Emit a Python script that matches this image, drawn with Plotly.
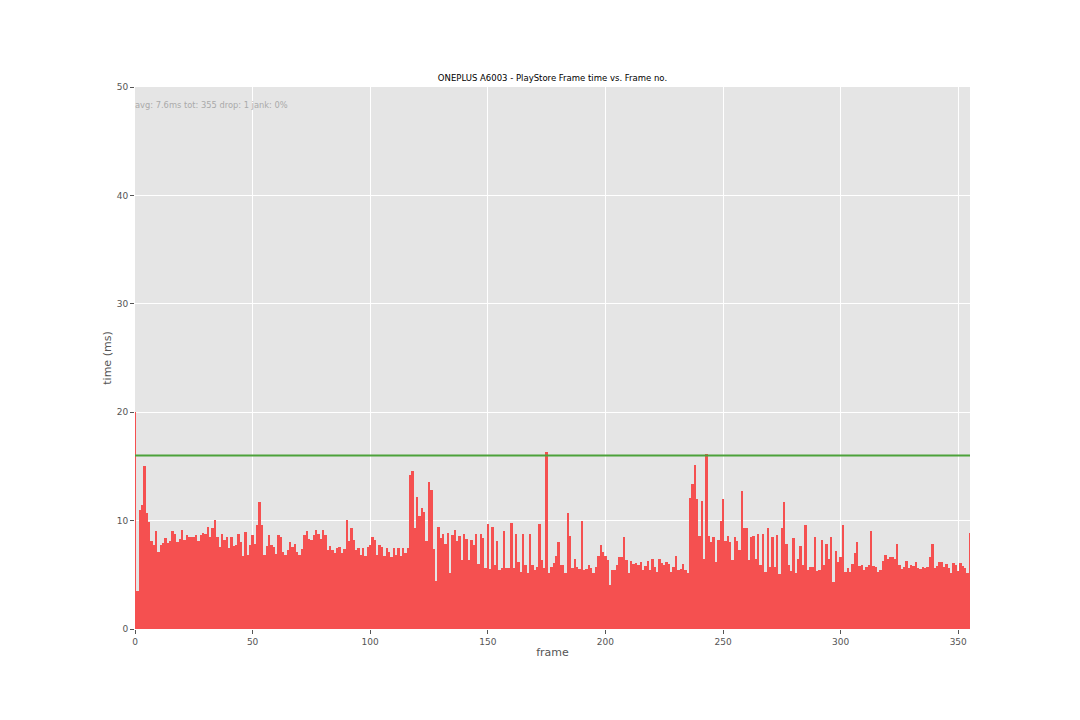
import plotly.graph_objects as go

# Frame times (ms), one per frame
frame_time_ms = [
    20.0, 3.5, 11.0, 11.4, 15.0, 10.7, 9.9, 8.1, 7.75, 9.0,
    7.1, 7.75, 7.9, 8.4, 7.9, 8.1, 9.0, 8.8, 8.0, 8.3,
    9.1, 8.2, 8.7, 8.5, 8.5, 8.5, 8.7, 8.1, 8.7, 8.9,
    8.8, 9.4, 8.5, 9.35, 10.1, 8.5, 7.6, 8.8, 8.2, 8.5,
    7.45, 8.5, 7.65, 7.75, 8.8, 8.0, 6.75, 8.95, 6.8, 7.75,
    8.7, 7.85, 9.6, 11.7, 9.6, 6.8, 7.65, 8.7, 7.75, 7.6,
    6.9, 8.7, 8.5, 7.1, 6.8, 7.3, 8.0, 7.6, 7.85, 7.1,
    6.8, 7.35, 8.7, 9.0, 8.3, 8.2, 8.7, 9.1, 8.8, 8.3,
    9.1, 8.7, 7.3, 7.7, 7.3, 7.0, 7.45, 7.55, 7.0, 7.35,
    10.1, 8.1, 9.3, 8.2, 7.3, 7.45, 6.8, 7.45, 6.7, 7.6,
    7.75, 8.45, 8.2, 6.8, 7.75, 7.6, 6.7, 7.45, 7.1, 6.6,
    7.45, 6.8, 7.5, 6.7, 7.5, 7.0, 7.45, 14.2, 14.6, 9.3,
    12.2, 10.4, 11.2, 10.8, 8.1, 13.6, 12.8, 7.35, 4.4, 9.45,
    8.4, 8.75, 7.85, 8.9, 5.15, 8.7, 9.1, 8.1, 8.6, 6.4,
    8.8, 8.3, 6.4, 8.2, 7.75, 8.8, 6.0, 8.8, 8.4, 5.6,
    9.7, 5.5, 9.4, 5.9, 8.1, 5.45, 5.6, 9.0, 5.6, 5.6,
    9.75, 5.6, 8.75, 6.15, 5.3, 8.75, 5.9, 5.2, 8.8, 5.9,
    5.4, 5.75, 9.7, 6.4, 5.6, 16.3, 5.15, 5.75, 6.05, 6.75,
    8.05, 5.9, 5.9, 5.2, 10.7, 8.6, 5.6, 6.45, 5.75, 5.55,
    10.0, 5.45, 5.5, 5.9, 5.65, 5.2, 5.75, 6.75, 7.75, 7.1,
    6.75, 6.35, 4.1, 5.45, 5.45, 5.9, 6.6, 6.6, 8.5, 6.35,
    5.2, 6.3, 6.0, 6.05, 5.9, 6.2, 5.4, 5.85, 6.3, 5.45,
    6.5, 5.75, 5.3, 6.5, 6.05, 5.95, 6.15, 6.0, 5.3, 5.7,
    6.7, 5.45, 5.5, 6.0, 5.4, 5.2, 12.05, 13.35, 15.1, 12.0,
    8.6, 11.8, 6.45, 16.1, 8.6, 8.0, 8.5, 6.2, 8.2, 10.0,
    12.0, 8.1, 8.6, 8.0, 6.4, 8.5, 8.15, 7.3, 12.7, 9.3,
    9.35, 6.4, 8.5, 8.6, 6.45, 8.8, 5.9, 8.8, 5.3, 9.35,
    5.75, 8.45, 5.75, 8.7, 5.1, 9.35, 11.75, 7.8, 5.9, 5.35,
    8.35, 5.2, 6.45, 7.65, 5.9, 9.55, 5.4, 5.7, 5.7, 8.45,
    5.35, 5.4, 8.2, 5.95, 7.85, 6.45, 8.45, 4.3, 7.15, 6.2,
    6.6, 9.55, 5.25, 5.6, 5.25, 6.0, 7.0, 8.0, 5.8, 5.9,
    5.45, 5.75, 5.9, 9.0, 5.8, 5.75, 5.25, 5.4, 6.3, 6.8,
    6.5, 6.65, 6.6, 6.45, 7.8, 5.9, 5.5, 5.75, 6.3, 5.6,
    5.95, 5.85, 6.2, 5.6, 5.55, 5.75, 5.65, 5.75, 6.6, 7.85,
    5.6, 5.85, 6.15, 6.2, 5.75, 6.0, 5.65, 5.15, 6.05, 5.9,
    5.35, 6.05, 5.85, 5.6, 5.2, 8.9,
]
frame_no = list(range(len(frame_time_ms)))

threshold_ms = [16.0, 16.0]
threshold_x = [0, 355]

x_ticks = [0, 50, 100, 150, 200, 250, 300, 350]
y_ticks = [0, 10, 20, 30, 40, 50]

title_text = "ONEPLUS A6003 - PlayStore Frame time vs. Frame no."
stats_text = "avg: 7.6ms tot: 355 drop: 1 jank: 0%"

fig = go.Figure()
fig.add_trace(go.Bar(
    x=frame_no, y=frame_time_ms, width=1.0,
    marker=dict(color="#F55050", line=dict(width=0)),
    showlegend=False,
))
fig.add_trace(go.Scatter(
    x=threshold_x, y=threshold_ms, mode="lines",
    line=dict(color="#4CA23A", width=2), showlegend=False,
))

axis_common = dict(
    showgrid=True, gridcolor="white", gridwidth=1,
    zeroline=False, showline=False,
    ticks="outside", ticklen=4, tickcolor="#555555",
    tickfont=dict(family="DejaVu Sans", size=9, color="#555555"),
)

fig.update_layout(
    width=1080, height=720,
    paper_bgcolor="white", plot_bgcolor="#E5E5E5",
    margin=dict(l=127, r=118, t=79, b=99),
    bargap=0,
    title=dict(text=title_text, x=(127 + 962) / 2 / 1080, xanchor="center", y=1 - 70 / 720, yanchor="middle",
               font=dict(family="DejaVu Sans", size=8.5, color="black")),
    xaxis=dict(range=[0, 355], tickvals=x_ticks,
               title=dict(text="frame", font=dict(family="DejaVu Sans", size=11, color="#555555"), standoff=2),
               **axis_common),
    yaxis=dict(range=[0, 50], tickvals=y_ticks,
               title=dict(text="time (ms)", font=dict(family="DejaVu Sans", size=11, color="#555555"), standoff=2),
               **axis_common),
    annotations=[dict(
        text=stats_text, xref="paper", yref="paper", x=0.0, y=(629 - 105) / 542,
        xanchor="left", yanchor="middle", showarrow=False, xshift=-2,
        font=dict(family="DejaVu Sans", size=8.3, color="#AAAAAA"),
    )],
)

fig.write_html("out.html")
